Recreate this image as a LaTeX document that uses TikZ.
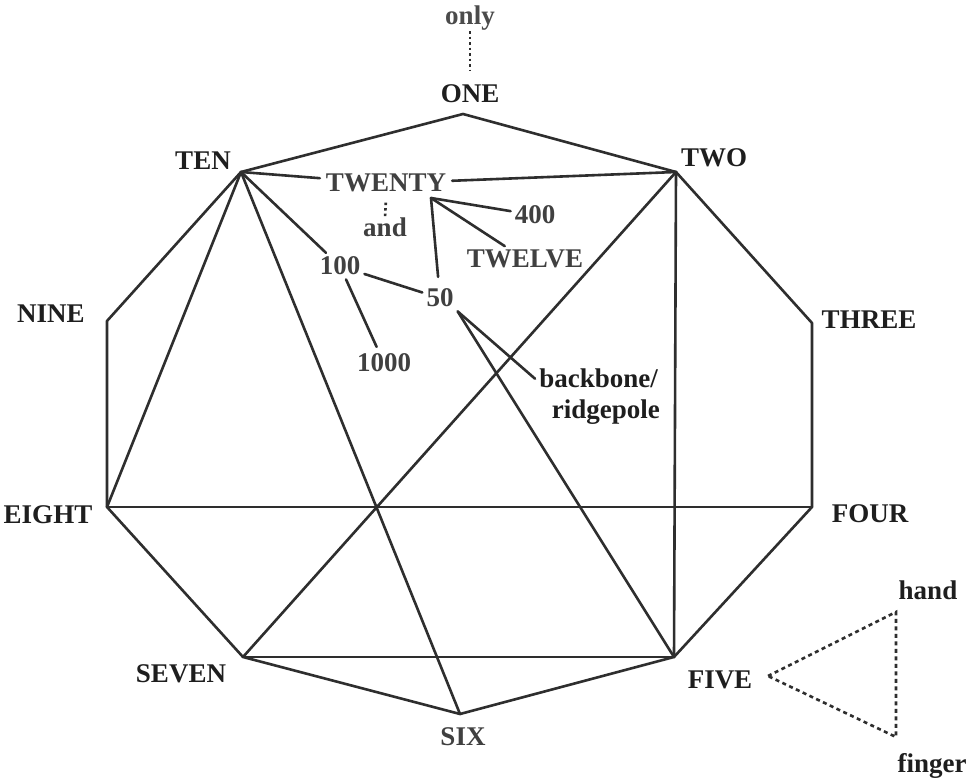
\documentclass[tikz,border=0pt]{standalone}
\usepackage{fontspec}
\setmainfont{Liberation Serif}
\definecolor{linec}{HTML}{2E2E2E}
\definecolor{txtc}{HTML}{1E1E1E}
\begin{document}
\begin{tikzpicture}[x=1pt,y=-1pt,
  edge/.style={line width=2.6pt, draw=linec, line cap=round, line join=round},
  lbl/.style={font=\fontsize{27}{31}\selectfont\bfseries, text=txtc, inner sep=0pt, anchor=base},
  ilbl/.style={font=\fontsize{27}{31}\selectfont\bfseries, text=txtc!85, inner sep=4pt, anchor=base},
  dotline/.style={line width=2.6pt, draw=linec, dash pattern=on 2.5pt off 3pt},
  dashline/.style={line width=2.6pt, draw=linec, dash pattern=on 4pt off 3.5pt}]
\useasboundingbox (0,0) rectangle (980,783);
\fill[white] (0,0) rectangle (980,783);

% polygon vertices
\coordinate (v1) at (463,114);
\coordinate (v2) at (676,172);
\coordinate (v3) at (812,323);
\coordinate (v4) at (812,507);
\coordinate (v5) at (674,657);
\coordinate (v6) at (460,714);
\coordinate (v7) at (243,657);
\coordinate (v8) at (107,507);
\coordinate (v9) at (107,321);
\coordinate (v10) at (241,172);

% outer labels
\node[lbl, text=txtc!80] (only) at (470,25) {only};
\node[lbl] (one) at (470,103) {ONE};
\node[lbl] (two) at (714,167) {TWO};
\node[lbl] (three) at (869,329) {THREE};
\node[lbl] (four) at (870,522) {FOUR};
\node[lbl] (five) at (720,688) {FIVE};
\node[ilbl] (six) at (463,745) {SIX};
\node[lbl] (seven) at (181,682) {SEVEN};
\node[lbl] (eight) at (48,523) {EIGHT};
\node[lbl] (nine) at (51,323) {NINE};
\node[lbl] (ten) at (203,170) {TEN};
\node[lbl] (hand) at (928,599) {hand};
\node[lbl] (finger) at (932,772) {finger};

% inner labels
\node[ilbl, inner sep=6pt] (twenty) at (386,192) {TWENTY};
\node[ilbl, inner sep=0pt] (and) at (385,237) {and};
\node[ilbl] (n400) at (535,224) {400};
\node[ilbl] (twelve) at (525,268) {TWELVE};
\node[ilbl] (hundred) at (340,275) {100};
\node[ilbl] (fifty) at (440,307) {50};
\node[ilbl, inner sep=7pt] (thousand) at (384,372) {1000};
\node[lbl, anchor=base east, inner sep=4pt] (bb1) at (662,388) {backbone/};
\node[lbl, anchor=base east, inner sep=4pt] (bb2) at (664,418) {ridgepole};
\coordinate (tj) at (431,198);

% outer polygon
\draw[edge] (v1) -- (v2) -- (v3) -- (v4) -- (v5) -- (v6) -- (v7) -- (v8) -- (v9) -- (v10) -- cycle;

% inner lines
\draw[edge] (v10) -- (v8);
\draw[edge] (v10) -- (v6);
\draw[edge] (v2) -- (v7);
\draw[edge] (v8) -- (v4);
\draw[edge] (v7) -- (v5);
\draw[edge] (v2) -- (v5);
\draw[edge] (v10) -- (twenty);
\draw[edge] (twenty) -- (v2);
\draw[edge] (v10) -- (hundred);
\draw[edge] (hundred) -- (fifty);
\draw[edge] (hundred) -- (thousand);
\draw[edge] (tj) -- (n400);
\draw[edge] (tj) -- (twelve);
\draw[edge, shorten >=8pt] (tj) -- (fifty);
\draw[edge] (fifty.south east) -- (bb1.west);
\draw[edge] (fifty.south east) -- (v5);

% dotted links
\draw[dotline, shorten >=14pt] (only.south) -- (one.north);
\draw[dotline, shorten <=4pt] (twenty.south) -- (and.north);

\coordinate (h1) at (768,676);
\coordinate (h2) at (896,612);
\coordinate (h3) at (896,737);
\draw[dashline] (h1) -- (h2) -- (h3) -- cycle;
\end{tikzpicture}
\end{document}
